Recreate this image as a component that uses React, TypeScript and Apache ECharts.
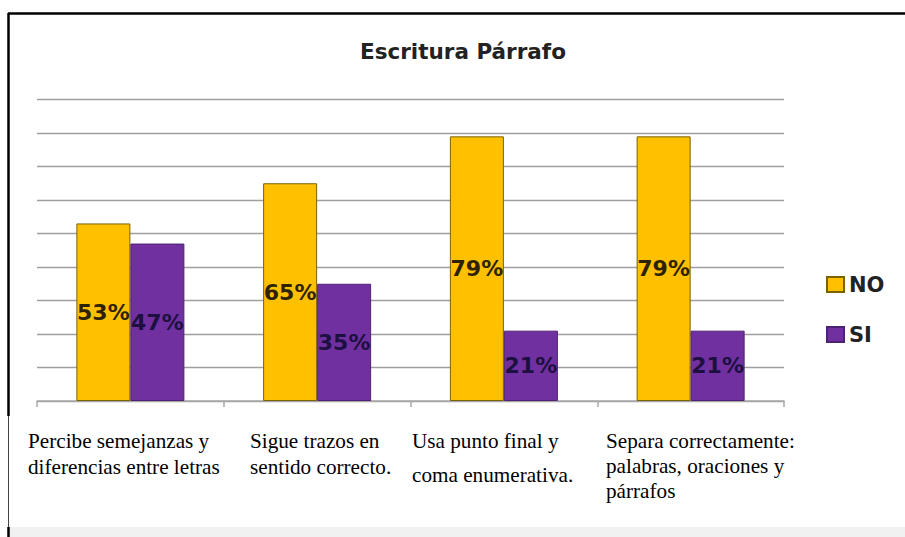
import React, { useEffect, useRef } from "react";
import * as echarts from "echarts";

// ---- data ----
const categories: string[] = [
  "Percibe semejanzas y\ndiferencias entre letras",
  "Sigue trazos en\nsentido correcto.",
  "Usa punto final y\ncoma enumerativa.",
  "Separa correctamente:\npalabras, oraciones y\npárrafos",
];
const seriesNames: string[] = ["NO", "SI"];
const noValues: number[] = [53, 65, 79, 79];
const siValues: number[] = [47, 35, 21, 21];
const yMin = 0;
const yMax = 90;
const yInterval = 10;
const titleText = "Escritura Párrafo";

// ---- layout (positions / styles only) ----
const catLabelX = [28, 250, 412, 606];
const catLabelY = [428, 428, 424, 428];
const catLineHeight = [26, 26, 34, 25];

export default function App() {
  const ref = useRef<HTMLDivElement>(null);

  useEffect(() => {
    if (!ref.current) return;
    const chart = echarts.init(ref.current, undefined, { renderer: "svg" });

    const labelGraphics = categories.map((c, i) => ({
      type: "text",
      x: catLabelX[i],
      y: catLabelY[i],
      style: {
        text: c,
        fontFamily: '"Liberation Serif", "Times New Roman", serif',
        fontSize: 21.2,
        lineHeight: catLineHeight[i],
        fill: "#000",
        textAlign: "left",
        textVerticalAlign: "top",
      },
      silent: true,
    }));

    const frame = [
      { type: "rect", shape: { x: 8, y: 527, width: 897, height: 10 }, style: { fill: "#f1f1f1" }, silent: true },
      { type: "line", shape: { x1: 8, y1: 13.5, x2: 905, y2: 13.5 }, style: { stroke: "#000", lineWidth: 2.5 }, silent: true },
      { type: "line", shape: { x1: 8.5, y1: 13, x2: 8.5, y2: 416 }, style: { stroke: "#000", lineWidth: 2.5 }, silent: true },
      { type: "line", shape: { x1: 8.5, y1: 416, x2: 8.5, y2: 527 }, style: { stroke: "#444", lineWidth: 1 }, silent: true },
      { type: "line", shape: { x1: 8.5, y1: 527, x2: 8.5, y2: 537 }, style: { stroke: "#000", lineWidth: 2.5 }, silent: true },
    ];

    const labelCommon = {
      show: true,
      position: "inside",
      formatter: "{c}%",
      fontFamily: '"DejaVu Sans", sans-serif',
      fontWeight: "bold",
      fontSize: 22,
    };

    chart.setOption({
      animation: false,
      backgroundColor: "#ffffff",
      title: {
        text: titleText,
        left: 360,
        top: 40,
        padding: 0,
        textStyle: {
          fontFamily: '"DejaVu Sans", sans-serif',
          fontWeight: "bold",
          fontSize: 21.5,
          color: "#222",
        },
      },
      legend: {
        orient: "vertical",
        left: 826,
        top: 274,
        padding: 0,
        itemWidth: 17,
        itemHeight: 15,
        itemGap: 29,
        icon: "rect",
        data: seriesNames,
        textStyle: {
          fontFamily: '"DejaVu Sans", sans-serif',
          fontWeight: "bold",
          fontSize: 21,
          color: "#222",
        },
      },
      grid: { left: 37, right: 121, top: 99.5, bottom: 136, containLabel: false },
      xAxis: {
        type: "category",
        data: categories,
        boundaryGap: true,
        axisLine: { show: true, lineStyle: { color: "#a9a9a9", width: 1.5 } },
        axisTick: { show: true, length: 6, lineStyle: { color: "#a9a9a9", width: 1.5 } },
        axisLabel: { show: false },
        splitLine: { show: false },
      },
      yAxis: {
        type: "value",
        min: yMin,
        max: yMax,
        interval: yInterval,
        axisLine: { show: false },
        axisTick: { show: false },
        axisLabel: { show: false },
        splitLine: { show: true, lineStyle: { color: "#9f9f9f", width: 1.3 } },
      },
      series: [
        {
          name: seriesNames[0],
          type: "bar",
          data: noValues,
          barWidth: 54,
          barGap: "0%",
          itemStyle: { color: "#FFC000", borderColor: "#7a6200", borderWidth: 1 },
          label: { ...labelCommon, color: "#2e2300" },
        },
        {
          name: seriesNames[1],
          type: "bar",
          data: siValues,
          barWidth: 54,
          barGap: "0%",
          itemStyle: { color: "#7030A0", borderColor: "#4e2272", borderWidth: 1 },
          label: { ...labelCommon, color: "#1d1040" },
        },
      ],
      graphic: [...frame, ...labelGraphics],
    });

    return () => chart.dispose();
  }, []);

  return (
    <div
      ref={ref}
      style={{ position: "fixed", left: 0, top: 0, width: 905, height: 537, background: "#fff" }}
    />
  );
}
